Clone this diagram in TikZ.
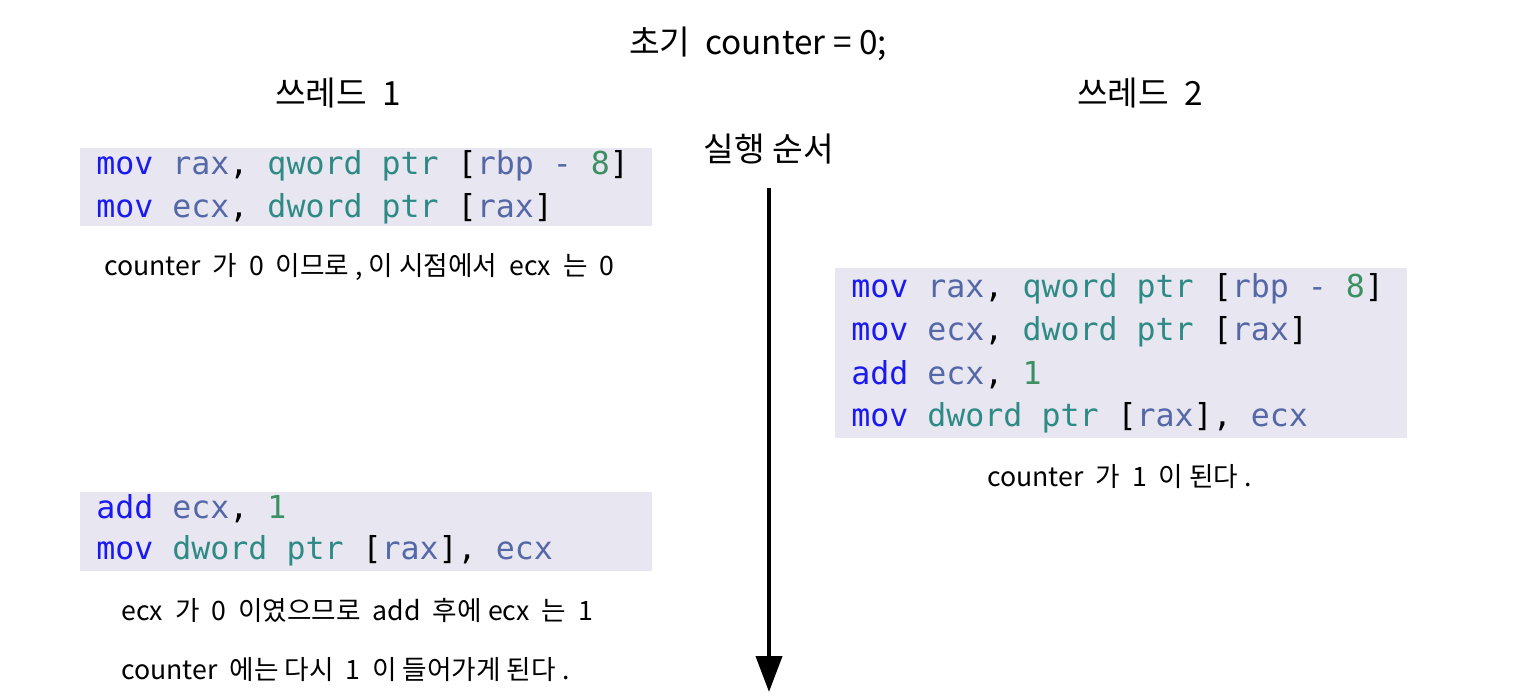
\documentclass[tikz,border=0pt]{standalone}
\usepackage{fontspec}
\setmainfont{Noto Sans CJK KR}
\setmonofont{DejaVu Sans Mono}
\usetikzlibrary{arrows.meta}
\definecolor{boxbg}{HTML}{E8E6F0}
\definecolor{kw}{HTML}{1A1AF0}
\definecolor{reg}{HTML}{5468A8}
\definecolor{typ}{HTML}{2E8A84}
\definecolor{num}{HTML}{3A9060}
\newcommand{\K}[1]{\textcolor{kw}{#1}}
\newcommand{\R}[1]{\textcolor{reg}{#1}}
\newcommand{\T}[1]{\textcolor{typ}{#1}}
\newcommand{\N}[1]{\textcolor{num}{#1}}
\begin{document}
\begin{tikzpicture}[x=0.75pt,y=-0.75pt,
  codebox/.style={fill=boxbg,draw=none,inner sep=0pt,anchor=north west},
  code/.style={anchor=west,inner sep=0pt,font=\ttfamily\fontsize{23.7}{27}\selectfont},
  title/.style={inner sep=0pt,font=\fontsize{25}{29}\selectfont},
  capt/.style={anchor=west,inner sep=0pt,font=\fontsize{20}{24}\selectfont}]
\useasboundingbox (0,0) rectangle (1530,698);
% titles
\node[title] (init) at (758,44) {초기\ \ counter = 0;};
\node[title] (t1) at (338,93) {쓰레드\ \ 1};
\node[title] (t2) at (1140,93) {쓰레드\ \ 2};
\node[title] (order) at (769,149) {실행 순서};
% arrow
\coordinate (atop) at (769,188);
\coordinate (abot) at (769,692);
\draw[line width=3pt,-{Triangle[length=27pt,width=19.5pt]}] (atop) -- (abot);
% box 1
\node[codebox,minimum width=429pt,minimum height=58.5pt] (b1) at (80,148) {};
\node[code] (b1l1) at (96,166) {\K{mov} \R{rax}, \T{qword} \T{ptr} [\R{rbp} \R{-} \N{8}]};
\node[code] (b1l2) at (96,209) {\K{mov} \R{ecx}, \T{dword} \T{ptr} [\R{rax}]};
\node[capt] (c1) at (104,267) {counter\ \ 가\ \ 0\ \ 이므로\ , 이 시점에서\ \ ecx\ \ 는\ \ 0};
% box 2
\node[codebox,minimum width=429pt,minimum height=127.5pt] (b2) at (835,268) {};
\node[code] (b2l1) at (851,289) {\K{mov} \R{rax}, \T{qword} \T{ptr} [\R{rbp} \R{-} \N{8}]};
\node[code] (b2l2) at (851,332) {\K{mov} \R{ecx}, \T{dword} \T{ptr} [\R{rax}]};
\node[code] (b2l3) at (851,375) {\K{add} \R{ecx}, \N{1}};
\node[code] (b2l4) at (851,418) {\K{mov} \T{dword} \T{ptr} [\R{rax}], \R{ecx}};
\node[capt] (c2) at (987,477) {counter\ \ 가\ \ 1\ \ 이 된다\ .};
% box 3
\node[codebox,minimum width=429pt,minimum height=59.25pt] (b3) at (80,492) {};
\node[code] (b3l1) at (96,509) {\K{add} \R{ecx}, \N{1}};
\node[code] (b3l2) at (96,551) {\K{mov} \T{dword} \T{ptr} [\R{rax}], \R{ecx}};
\node[capt] (c3) at (121,610) {ecx\ \ 가\ \ 0\ \ 이였으므로\ \ add\ \ 후에\ ecx\ \ 는\ \ 1};
\node[capt] (c4) at (121,670) {counter\ \ 에는 다시\ \ 1\ \ 이 들어가게 된다\ .};
\end{tikzpicture}
\end{document}
